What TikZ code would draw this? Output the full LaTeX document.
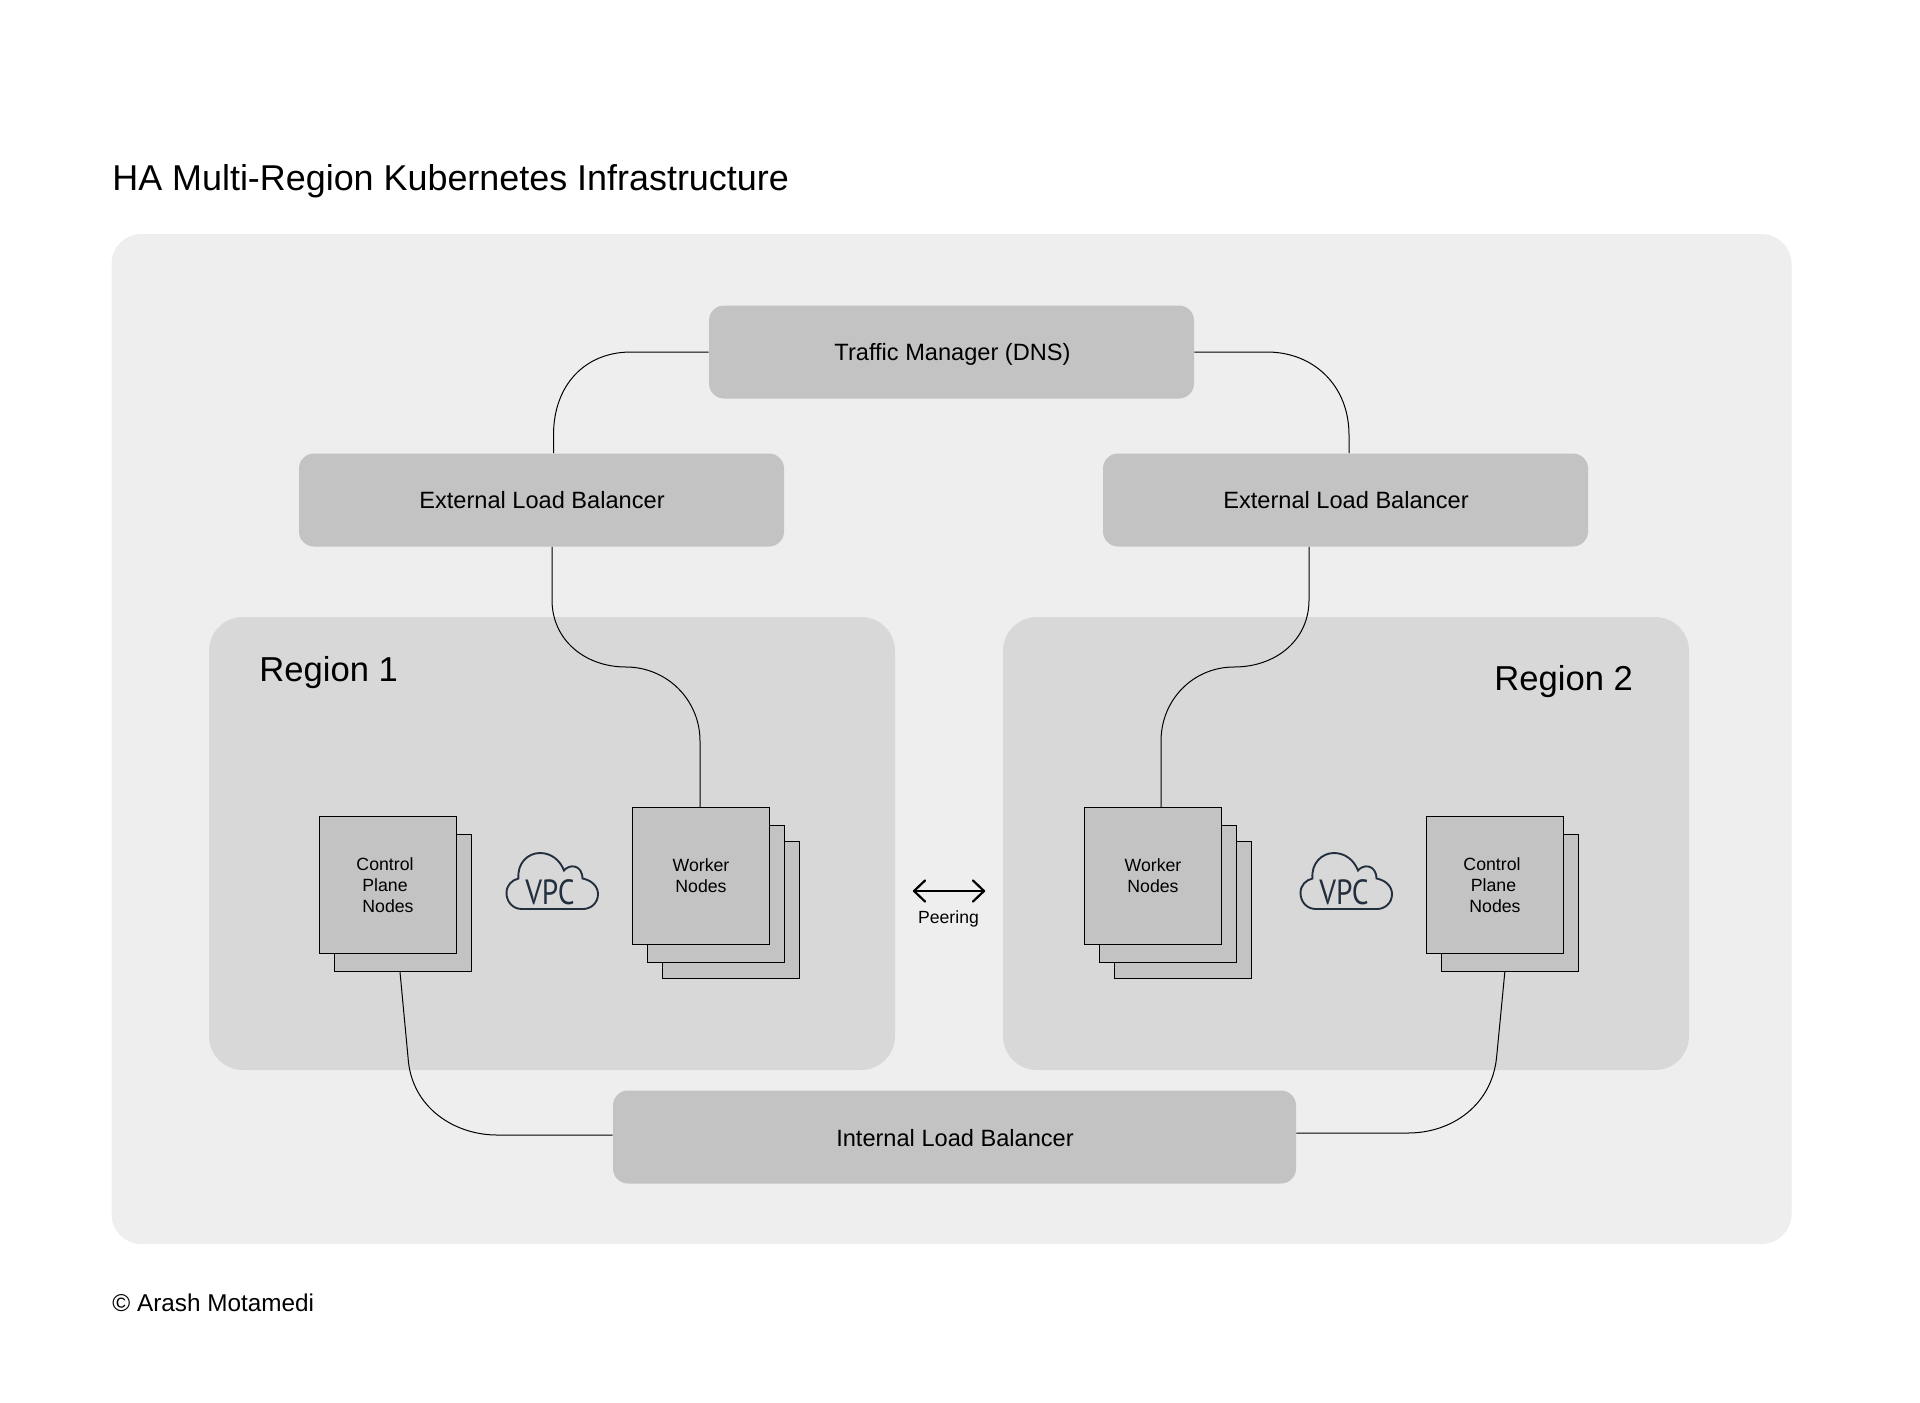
\documentclass[tikz,border=0pt]{standalone}
\usepackage{fontspec}
\setmainfont{Liberation Sans}
\newfontfamily\vpcfont[FakeStretch=0.84]{PT Sans}
\definecolor{panelbg}{HTML}{EEEEEE}
\definecolor{regionbg}{HTML}{D8D8D8}
\definecolor{boxbg}{HTML}{C3C3C3}
\definecolor{cloudline}{HTML}{232F3E}
\newcommand{\fs}[1]{\fontsize{#1}{#1}\selectfont}
\newcommand{\sheetfont}{\fontsize{8.85}{10.5}\selectfont}
\tikzset{
  px/.style={x=0.5pt,y=-0.5pt},
  panel/.style={fill=panelbg,rounded corners=15pt,draw=none},
  regionbox/.style={fill=regionbg,rounded corners=17pt,draw=none},
  lbbox/.style={fill=boxbg,rounded corners=7.5pt,draw=none,inner sep=0pt,font=\fs{11.8}},
  sheet/.style={fill=boxbg,draw=black,line width=0.6pt,inner sep=0pt,minimum width=68.5pt,minimum height=68.5pt,align=center,font=\sheetfont},
  conn/.style={draw=black,line width=0.5pt},
  textlabel/.style={inner sep=0pt,text=black,anchor=west},
  cloudstroke/.style={draw=cloudline,line width=0.95pt},
  peerline/.style={line width=1.1pt,line cap=round,line join=round},
}
\newcommand{\cloudat}[2]{%
  \begin{scope}[shift={(#1,#2)}]
  \draw[cloudstroke]
    (-30,56) .. controls (-40,56) and (-45.5,48) .. (-45.5,40)
    .. controls (-45.5,32) and (-40,27) .. (-33.5,25.5)
    .. controls (-35,10) and (-24,0) .. (-12,0)
    .. controls (-1,0) and (8,7) .. (12,17.5)
    .. controls (17,11) and (30,11) .. (30.5,25.5)
    .. controls (39,27) and (46,33) .. (46,41)
    .. controls (46,50) and (39,56) .. (31,56) -- cycle;
  \end{scope}}
\begin{document}
\begin{tikzpicture}[px]
\useasboundingbox (0,0) rectangle (1920,1402);
\fill[white] (0,0) rectangle (1920,1402);
\node[textlabel,font=\fs{17.95}] (title) at (112,181.5) {HA Multi-Region Kubernetes Infrastructure};
\node[textlabel,font=\fs{12.15}] (credit) at (112,1303) {© Arash Motamedi};
\filldraw[panel] (111.5,234) rectangle (1791.5,1244);
\filldraw[regionbox] (209,617) rectangle (895,1070);
\filldraw[regionbox] (1003,617) rectangle (1689,1070);
\node[textlabel,font=\fs{17.3}] (r1) at (259,673) {Region 1};
\node[textlabel,font=\fs{17.3}] (r2) at (1494,682) {Region 2};
\node[lbbox,minimum width=242.5pt,minimum height=46.5pt] (traffic) at (951.5,352) {};
\node[lbbox,minimum width=242.5pt,minimum height=46.5pt] (ext1) at (541.5,500) {};
\node[lbbox,minimum width=242.5pt,minimum height=46.5pt] (ext2) at (1345.5,500) {};
\node[lbbox,minimum width=341.5pt,minimum height=46.5pt] (int) at (954.5,1137) {};
\node[font=\fs{11.8},inner sep=0pt] (trafficlabel) at (952.5,354) {Traffic Manager (DNS)};
\node[font=\fs{11.8},inner sep=0pt] (ext1label) at (542,500) {External Load Balancer};
\node[font=\fs{11.8},inner sep=0pt] (ext2label) at (1346,500) {External Load Balancer};
\node[font=\fs{11.8},inner sep=0pt] (intlabel) at (955,1138) {Internal Load Balancer};
% stacks
\node[sheet] (cb1) at (403,903) {};
\node[sheet] (c1) at (388,885) {\kern-3pt Control\\\kern-3pt Plane\\ Nodes};
\node[sheet] (wb1) at (731,910) {};
\node[sheet] (wm1) at (716,894) {};
\node[sheet] (w1) at (701,876) {Worker\\Nodes};
\node[sheet] (wb2) at (1183,910) {};
\node[sheet] (wm2) at (1168,894) {};
\node[sheet] (w2) at (1153,876) {Worker\\Nodes};
\node[sheet] (cb2) at (1510,903) {};
\node[sheet] (c2) at (1495,885) {\kern-3pt Control\\\kern-1.5pt Plane\\ Nodes};
% clouds
\cloudat{552}{853}
\cloudat{1346}{853}
\node[font=\vpcfont\fs{17.5},text=cloudline,inner sep=0pt] (vpc1) at (550,892) {VPC};
\node[font=\vpcfont\fs{17.5},text=cloudline,inner sep=0pt] (vpc2) at (1344,892) {VPC};
% peering
\coordinate (pl) at (914,891);
\coordinate (pr) at (984,891);
\draw[peerline] (pl) -- (pr);
\draw[peerline] (925,880.5) -- (pl) -- (925,901.5);
\draw[peerline] (973,880.5) -- (pr) -- (973,901.5);
\node[font=\fs{8.8},inner sep=0pt] (peer) at (948.5,919) {Peering};
% connectors
\draw[conn] (traffic.west) -- (631,352) .. controls (585,352) and (553.5,385) .. (553.5,435) -- ([xshift=6pt]ext1.north);
\draw[conn] (traffic.east) -- (1267,352) .. controls (1313,352) and (1349,385) .. (1349,435) -- ([xshift=1.75pt]ext2.north);
\draw[conn] ([xshift=5.25pt]ext1.south) -- (552,600) .. controls (552,640) and (585,667) .. (626,667)
  .. controls (667,667) and (700,700) .. (700,741) -- ([xshift=-0.5pt]w1.north);
\draw[conn] ([xshift=-18.25pt]ext2.south) -- (1309,600) .. controls (1309,640) and (1276,667) .. (1234,667)
  .. controls (1193,667) and (1161,700) .. (1161,741) -- ([xshift=4pt]w2.north);
\draw[conn] ([xshift=-1.5pt]cb1.south) -- (408,1057) .. controls (411,1108) and (455,1135) .. (497,1135) -- ([yshift=1pt]int.west);
\draw[conn] ([xshift=-2.6pt]cb2.south) -- (1496.6,1057) .. controls (1492,1105) and (1452,1133) .. (1408,1133) -- ([yshift=2pt]int.east);
\end{tikzpicture}
\end{document}
